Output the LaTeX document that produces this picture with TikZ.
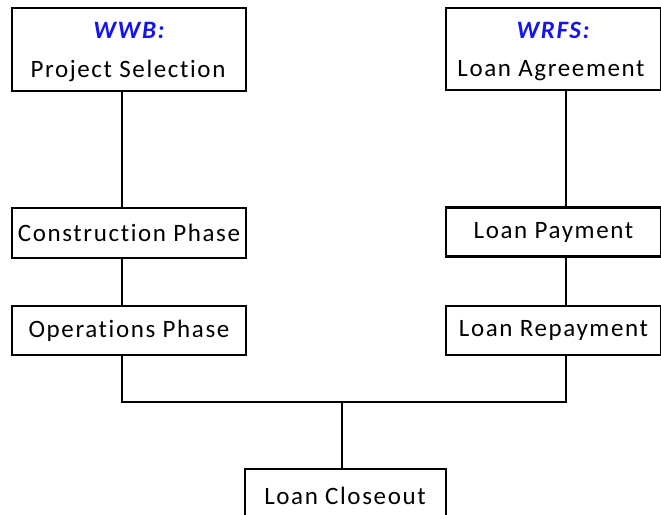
\documentclass[tikz,border=0pt]{standalone}
\usepackage{fontspec}
\setmainfont{Carlito}[LetterSpace=6.5,Ligatures=NoCommon]
\definecolor{lblue}{RGB}{20,20,240}
\begin{document}
\begin{tikzpicture}[x=1pt,y=-1pt,
  txt/.style={font=\fontsize{25}{28}\selectfont},
  box/.style={draw=black,line width=2.4pt,rectangle,inner sep=0pt,txt},
  conn/.style={draw=black,line width=1.5pt}]
\useasboundingbox (0,0) rectangle (661,514);
\node[box,minimum width=234,minimum height=83] (ps) at (129,49.5) {};
\node[txt,font=\fontsize{25}{28}\selectfont\bfseries\itshape,text=lblue] (wwb) at (129,30) {WWB:};
\node[txt] (pst) at (128,71) {Project Selection};
\node[box,minimum width=215,minimum height=82] (la) at (553.5,49) {};
\node[txt,font=\fontsize{25}{28}\selectfont\bfseries\itshape,text=lblue] (wrfs) at (553,30) {WRFS:};
\node[txt] (lat) at (551,71) {Loan Agreement};
\node[box,minimum width=234,minimum height=50] (cp) at (129,233) {Construction Phase};
\node[box,minimum width=234,minimum height=49] (op) at (129,330.5) {Operations Phase};
\node[box,minimum width=215,minimum height=49] (lp) at (553.5,232) {Loan Payment};
\node[box,minimum width=215,minimum height=49] (lr) at (553.5,330.5) {Loan Repayment};
\node[box,minimum width=201,minimum height=62] (lc) at (345.5,500) {};
\node[txt] (lct) at (345,496) {Loan Closeout};
\coordinate (jl) at (122,402);
\coordinate (jr) at (566,402);
\coordinate (jm) at (342,402);
\draw[conn] (ps.south -| jl) -- (cp.north -| jl);
\draw[conn] (cp.south -| jl) -- (op.north -| jl);
\draw[conn] (op.south -| jl) -- (jl) -- (jr) -- (lr.south -| jr);
\draw[conn] (la.south -| jr) -- (lp.north -| jr);
\draw[conn] (lp.south -| jr) -- (lr.north -| jr);
\draw[conn] (jm) -- (lc.north -| jm);
\end{tikzpicture}
\end{document}
